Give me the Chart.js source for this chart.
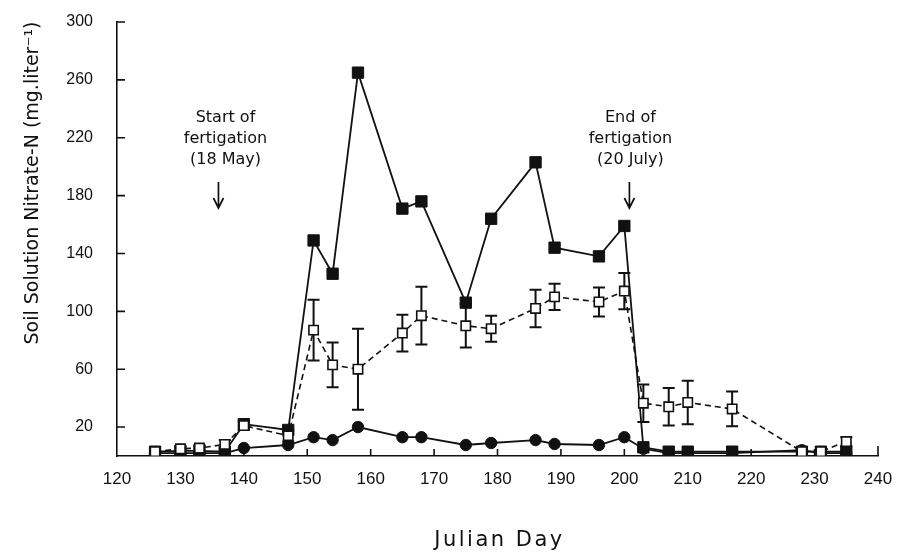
<!DOCTYPE html>
<html>
<head>
<meta charset="utf-8">
<script src="https://cdn.jsdelivr.net/npm/chart.js@4.4.0/dist/chart.umd.min.js"></script>
<style>
  html, body { margin: 0; padding: 0; background: #fff; }
</style>
</head>
<body>
<canvas id="nitrateChart" width="899" height="552"></canvas>
<script>
// Julian days of sampling
var days   = [126, 130, 133, 137, 140, 147, 151, 154, 158, 165, 168, 175, 179, 186, 189, 196, 200, 203, 207, 210, 217, 228, 231, 235];
// filled squares, solid line
var highN  = [3, 3.5, 3.5, 3, 22, 18, 149, 126, 265, 171, 176, 106, 164, 203, 144, 138, 159, 6, 3, 3, 3, 3, 3, 3];
// open squares, dashed line, with error bars
var midN   = [3, 5, 5.5, 8, 21, 14, 87, 63, 60, 85, 97, 90, 88, 102, 110, 106.5, 114, 36.5, 34, 37, 32.5, 3, 3, 10];
var midErr = [0, 1, 2, 3, 3, 4, 21, 15.5, 28, 12.7, 20, 15, 9, 13, 9, 10, 12.5, 13, 13, 15, 12, 0, 0, 3];
// filled circles, solid line
var lowN   = [2, 2, 2, 2, 5.5, 7.6, 13, 11, 20, 13, 13, 7.6, 9, 11, 8.3, 7.6, 13, 5, 2, 2, 2, 4, 2, 2];

var xTicks = [120, 130, 140, 150, 160, 170, 180, 190, 200, 210, 220, 230, 240];
var yTickLabels = [20, 60, 100, 140, 180, 220, 260, 300];

var notes = [
  { lines: ['Start of', 'fertigation', '(18 May)'], day: 136, dx: 7 },
  { lines: ['End of', 'fertigation', '(20 July)'], day: 200.8, dx: 1 }
];

function pts(vals) {
  return days.map(function(d, i) { return { x: d, y: vals[i] }; });
}

var ink = '#111';

var overlay = {
  id: 'overlay',
  beforeDatasetsDraw: function(chart) {
    var ctx = chart.ctx, xs = chart.scales.x, ys = chart.scales.y;
    var a = chart.chartArea;
    ctx.save();
    ctx.strokeStyle = ink;
    // error bars of the open-square series
    ctx.lineWidth = 2;
    for (var i = 0; i < days.length; i++) {
      if (!midErr[i]) continue;
      var x = xs.getPixelForValue(days[i]);
      var t = ys.getPixelForValue(midN[i] + midErr[i]);
      var b = ys.getPixelForValue(midN[i] - midErr[i]);
      ctx.beginPath();
      ctx.moveTo(x, t); ctx.lineTo(x, b);
      ctx.moveTo(x - 6, t); ctx.lineTo(x + 6, t);
      ctx.moveTo(x - 6, b); ctx.lineTo(x + 6, b);
      ctx.stroke();
    }
    // inward ticks
    ctx.lineWidth = 1.6;
    ctx.beginPath();
    yTickLabels.forEach(function(v) {
      var y = ys.getPixelForValue(v);
      ctx.moveTo(a.left, y); ctx.lineTo(a.left + 8, y);
    });
    xTicks.forEach(function(v) {
      if (v === 120) return;
      var x = xs.getPixelForValue(v);
      ctx.moveTo(x, a.bottom); ctx.lineTo(x, a.bottom - (v === 240 ? 10 : 7));
    });
    ctx.stroke();
    ctx.restore();
  },
  afterDraw: function(chart) {
    var ctx = chart.ctx, xs = chart.scales.x, a = chart.chartArea;
    ctx.save();
    ctx.fillStyle = ink;
    ctx.strokeStyle = ink;
    ctx.textAlign = 'center';
    ctx.textBaseline = 'middle';

    // annotations with arrows
    ctx.font = '16px "DejaVu Sans"';
    notes.forEach(function(n) {
      var x = xs.getPixelForValue(n.day);
      n.lines.forEach(function(s, k) {
        ctx.fillText(s, x + n.dx, 118 + k * 21);
      });
      ctx.lineWidth = 1.7;
      ctx.beginPath();
      ctx.moveTo(x, 182); ctx.lineTo(x, 208);
      ctx.moveTo(x - 5, 198); ctx.lineTo(x, 208); ctx.lineTo(x + 5, 198);
      ctx.stroke();
    });

    // y axis title
    ctx.save();
    ctx.translate(33, 183);
    ctx.rotate(-Math.PI / 2);
    ctx.font = '19px "DejaVu Sans"';
    ctx.fillText('Soil Solution Nitrate-N (mg.liter\u207B\u00B9)', 0, 0);
    ctx.restore();

    // x axis title
    ctx.font = '21px "DejaVu Sans"';
    ctx.letterSpacing = '2.5px';
    ctx.fillText('Julian Day', (a.left + a.right) / 2 + 2, 541);
    ctx.restore();
  }
};

new Chart(document.getElementById('nitrateChart').getContext('2d'), {
  type: 'line',
  data: {
    datasets: [
      {
        data: pts(midN),
        borderColor: ink, borderWidth: 1.6, borderDash: [6, 4],
        pointStyle: 'rect', pointRadius: 6.6,
        pointBackgroundColor: '#fff', pointBorderColor: ink, pointBorderWidth: 1.6
      },
      {
        data: pts(highN),
        borderColor: ink, borderWidth: 1.8,
        pointStyle: 'rect', pointRadius: 8,
        pointBackgroundColor: ink, pointBorderColor: ink, pointBorderWidth: 1
      },
      {
        data: pts(lowN),
        borderColor: ink, borderWidth: 1.8,
        pointStyle: 'circle', pointRadius: 5.7,
        pointBackgroundColor: ink, pointBorderColor: ink, pointBorderWidth: 1
      }
    ]
  },
  options: {
    responsive: false,
    animation: false,
    events: [],
    layout: { padding: { left: 0, top: 22, right: 21, bottom: 0 } },
    plugins: { legend: { display: false }, tooltip: { enabled: false } },
    elements: { line: { tension: 0 } },
    scales: {
      x: {
        type: 'linear', min: 120, max: 240,
        afterBuildTicks: function(s) { s.ticks = xTicks.map(function(v) { return { value: v }; }); },
        afterFit: function(s) { s.height = 96; s.paddingLeft = 0; s.paddingRight = 0; },
        grid: { display: false, drawTicks: false },
        border: { display: true, color: ink, width: 1.6 },
        ticks: { color: ink, padding: 13, maxRotation: 0, font: { family: 'Liberation Sans', size: 17 } }
      },
      y: {
        min: 0, max: 300,
        afterBuildTicks: function(s) { s.ticks = yTickLabels.map(function(v) { return { value: v }; }); },
        afterFit: function(s) { s.width = 117; s.paddingTop = 0; s.paddingBottom = 0; },
        grid: { display: false, drawTicks: false },
        border: { display: true, color: ink, width: 1.6 },
        ticks: { color: ink, padding: 24, font: { family: 'Liberation Sans', size: 16 } }
      }
    }
  },
  plugins: [overlay]
});
</script>
</body>
</html>
